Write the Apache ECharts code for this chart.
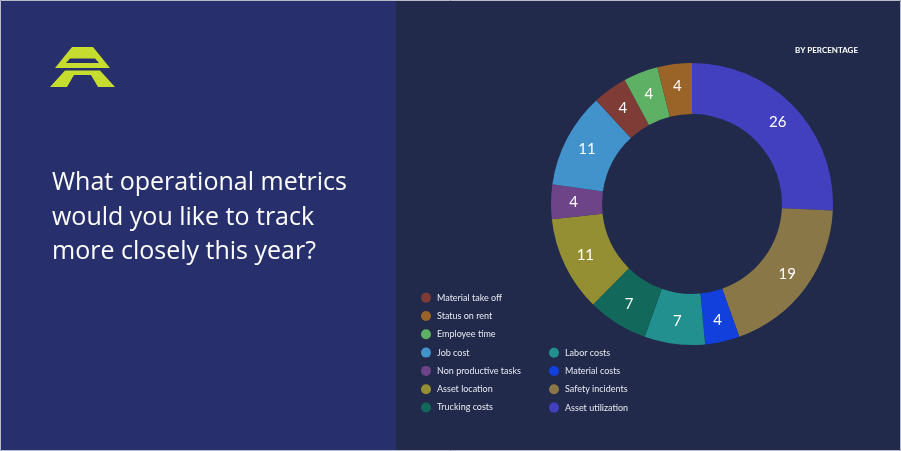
<!DOCTYPE html>
<html>
<head>
<meta charset="utf-8">
<script src="https://cdn.jsdelivr.net/npm/echarts@6/dist/echarts.min.js"></script>
<style>
html,body{margin:0;padding:0;background:#222a4b;}
#chart{width:901px;height:451px;}
</style>
</head>
<body>
<div id="chart"></div>
<script>
const categories = ['Asset utilization','Safety incidents','Material costs','Labor costs','Trucking costs','Asset location','Non productive tasks','Job cost','Material take off','Employee time','Status on rent'];
const values = [26,19,4,7,7,11,4,11,4,4,4];
const sliceColors = ['#4340c0','#8a7748','#1140dd','#239090','#13685c','#958f33','#6d4487','#4292cb','#7f3b35','#5eb064','#9a6428'];
const legendColumn1 = ['Material take off','Status on rent','Employee time','Job cost','Non productive tasks','Asset location','Trucking costs'];
const legendColumn2 = ['Labor costs','Material costs','Safety incidents','Asset utilization'];
const titleLines = ['What operational metrics','would you like to track','more closely this year?'];
const subtitle = 'BY PERCENTAGE';

const chart = echarts.init(document.getElementById('chart'), null, {renderer:'canvas'});
const FONT = 'Lato';
const TFONT = '"Open Sans"';
const legendBase = {
  orient:'vertical', icon:'circle', itemWidth:10, itemHeight:10, itemGap:8.3, padding:0,
  selectedMode:false,
  textStyle:{color:'#e6e8f0', fontSize:9, fontFamily:FONT, lineHeight:10, padding:[0,0,0,1]}
};
const option = {
  animation:false,
  backgroundColor:'#222a4b',
  graphic:[
    {type:'rect', shape:{x:0,y:0,width:396,height:451}, style:{fill:'#27306c'}, z:-10},
    {type:'rect', shape:{x:0.5,y:0.5,width:900,height:450}, style:{fill:null, stroke:'#b9bbc8', lineWidth:1}, z:-5},
    {type:'polygon', shape:{points:[[72,47],[93,47],[110,68],[55,68]]}, style:{fill:'#c6dd2f'}},
    {type:'polygon', shape:{points:[[70,58.5],[95,58.5],[99,63],[66,63]]}, style:{fill:'#27306c'}},
    {type:'polygon', shape:{points:[[65,70.5],[100,70.5],[115,87],[50,87]]}, style:{fill:'#c6dd2f'}},
    {type:'polygon', shape:{points:[[74,75],[91,75],[98,87],[67,87]]}, style:{fill:'#27306c'}},
    {type:'text', left:52, top:166, style:{text:titleLines.join('\n'), fill:'#ffffff', font:'25px '+TFONT, lineHeight:34.5}},
    {type:'text', right:43, top:46, style:{text:subtitle, fill:'#ffffff', font:'bold 8px '+FONT}}
  ],
  legend:[
    Object.assign({}, legendBase, {left:421, top:292.7, data:legendColumn1}),
    Object.assign({}, legendBase, {left:549, top:347.7, data:legendColumn2})
  ],
  series:[{
    type:'pie',
    center:[692,204],
    radius:[90,141],
    startAngle:90,
    clockwise:true,
    silent:true,
    label:{show:true, position:'inside', formatter:'{c}', color:'#ffffff', fontSize:15, fontFamily:FONT},
    labelLine:{show:false},
    itemStyle:{borderWidth:0},
    emphasis:{disabled:true},
    data:categories.map((c,i)=>({name:c, value:values[i], itemStyle:{color:sliceColors[i]}}))
  }]
};
chart.setOption(option);
</script>
</body>
</html>
